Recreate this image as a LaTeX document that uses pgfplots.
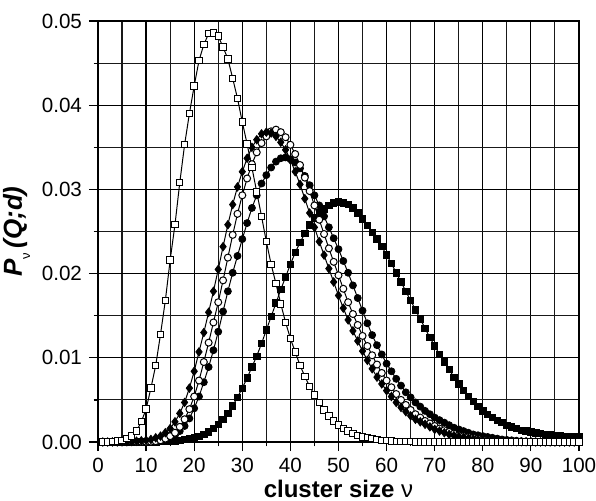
\documentclass[border=0pt]{standalone}
\usepackage{fontspec}
\setmainfont{Liberation Sans}
\usepackage{pgfplots}
\usepackage{pgfplotstable}
\pgfplotsset{compat=1.18}

\pgfplotstableread{
x y
1 0.00001
2 0.00002
3 0.00004
4 0.0001
5 0.0002
6 0.0004
7 0.0007
8 0.0013
9 0.0024
10 0.0039
11 0.0064
12 0.0091
13 0.0128
14 0.0168
15 0.0216
16 0.0258
17 0.0308
18 0.0353
19 0.0390
20 0.0423
21 0.0453
22 0.0472
23 0.0485
24 0.0486
25 0.0482
26 0.0469
27 0.0455
28 0.0432
29 0.0408
30 0.0380
31 0.0354
32 0.0326
33 0.0297
34 0.0268
35 0.0238
36 0.0211
37 0.0188
38 0.0164
39 0.0142
40 0.0123
41 0.0107
42 0.0091
43 0.0078
44 0.0066
45 0.0056
46 0.0047
47 0.0038
48 0.0031
49 0.0025
50 0.0020
51 0.0016
52 0.0013
53 0.0010
54 0.0008
55 0.0006
56 0.0005
57 0.0004
58 0.0003
59 0.0002
60 0.00015
61 0.0001
62 0.00008
63 0.00006
64 0.00004
65 0.00003
66 0.00002
67 0.00002
68 0.00001
69 0.00001
70 0.00001
71 0.00001
72 0.00001
73 0.00001
74 0.00001
75 0.00001
76 0
77 0
78 0
79 0
80 0
81 0
82 0
83 0
84 0
85 0
86 0
87 0
88 0
89 0
90 0
91 0
92 0
93 0
94 0
95 0
96 0
97 0
98 0
99 0
100 0
}\tabA

\pgfplotstableread{
x y
1 0
2 0
3 0.00001
4 0.00001
5 0.00002
6 0.00003
7 0.00005
8 0.0001
9 0.00015
10 0.0002
11 0.0003
12 0.0005
13 0.0007
14 0.0011
15 0.0016
16 0.0024
17 0.0034
18 0.0047
19 0.0064
20 0.0084
21 0.0107
22 0.0130
23 0.0154
24 0.0179
25 0.0205
26 0.0232
27 0.0258
28 0.0282
29 0.0303
30 0.0321
31 0.0337
32 0.0350
33 0.0359
34 0.0366
35 0.0368
36 0.0367
37 0.0363
38 0.0356
39 0.0347
40 0.0335
41 0.0321
42 0.0306
43 0.0289
44 0.0272
45 0.0255
46 0.0238
47 0.0222
48 0.0206
49 0.0190
50 0.0174
51 0.0159
52 0.0145
53 0.0132
54 0.0120
55 0.0108
56 0.0097
57 0.0087
58 0.0077
59 0.0069
60 0.0061
61 0.0054
62 0.0047
63 0.0041
64 0.0036
65 0.0031
66 0.0027
67 0.0024
68 0.0021
69 0.0018
70 0.0015
71 0.0013
72 0.0011
73 0.0009
74 0.00075
75 0.00065
76 0.00055
77 0.00045
78 0.00035
79 0.0003
80 0.00022
81 0.00018
82 0.00014
83 0.00011
84 0.00008
85 0.00006
86 0.00005
87 0.00004
88 0.00003
89 0.00002
90 0.00002
91 0.00001
92 0.00001
93 0.00001
94 0.00001
95 0
96 0
97 0
98 0
99 0
100 0
}\tabB

\pgfplotstableread{
x y
1 0
2 0
3 0
4 0
5 0
6 0.00001
7 0.00001
8 0.00001
9 0.00001
10 0.00002
11 0.00004
12 0.0001
13 0.0002
14 0.0004
15 0.0007
16 0.0011
17 0.0018
18 0.0027
19 0.0039
20 0.0054
21 0.0073
22 0.0095
23 0.0118
24 0.0142
25 0.0166
26 0.0192
27 0.0219
28 0.0246
29 0.0271
30 0.0293
31 0.0313
32 0.0330
33 0.0344
34 0.0355
35 0.0363
36 0.0369
37 0.0371
38 0.0368
39 0.0362
40 0.0353
41 0.0342
42 0.0329
43 0.0314
44 0.0298
45 0.0281
46 0.0264
47 0.0247
48 0.0230
49 0.0214
50 0.0198
51 0.0182
52 0.0166
53 0.0152
54 0.0139
55 0.0126
56 0.0114
57 0.0103
58 0.0092
59 0.0082
60 0.0073
61 0.0065
62 0.0057
63 0.0050
64 0.0044
65 0.0038
66 0.0033
67 0.0029
68 0.0025
69 0.0022
70 0.0019
71 0.0016
72 0.0014
73 0.0012
74 0.0010
75 0.0008
76 0.0007
77 0.0006
78 0.0005
79 0.0004
80 0.0003
81 0.00025
82 0.0002
83 0.00015
84 0.0001
85 0.00008
86 0.00006
87 0.00004
88 0.00003
89 0.00002
90 0.00002
91 0.00001
92 0.00001
93 0.00001
94 0.00001
95 0
96 0
97 0
98 0
99 0
100 0
}\tabC

\pgfplotstableread{
x y
1 0
2 0
3 0
4 0
5 0
6 0
7 0.00001
8 0.00001
9 0.00001
10 0.00002
11 0.00003
12 0.00006
13 0.00015
14 0.0003
15 0.0005
16 0.0008
17 0.0013
18 0.0019
19 0.0028
20 0.0040
21 0.0054
22 0.0071
23 0.0089
24 0.0109
25 0.0131
26 0.0155
27 0.0179
28 0.0201
29 0.0221
30 0.0241
31 0.0260
32 0.0278
33 0.0293
34 0.0307
35 0.0317
36 0.0326
37 0.0333
38 0.0337
39 0.0338
40 0.0336
41 0.0332
42 0.0325
43 0.0316
44 0.0305
45 0.0293
46 0.0281
47 0.0268
48 0.0255
49 0.0242
50 0.0229
51 0.0215
52 0.0201
53 0.0186
54 0.0171
55 0.0156
56 0.0141
57 0.0127
58 0.0115
59 0.0104
60 0.0093
61 0.0084
62 0.0075
63 0.0067
64 0.0059
65 0.0053
66 0.0047
67 0.0042
68 0.0037
69 0.0033
70 0.0029
71 0.0026
72 0.0023
73 0.0020
74 0.0017
75 0.0015
76 0.0013
77 0.0011
78 0.0009
79 0.0008
80 0.0007
81 0.0006
82 0.0005
83 0.0004
84 0.0003
85 0.00025
86 0.0002
87 0.00015
88 0.0001
89 0.00008
90 0.00006
91 0.00005
92 0.00004
93 0.00003
94 0.00002
95 0.00002
96 0.00001
97 0.00001
98 0.00001
99 0.00001
100 0.00001
}\tabD

\pgfplotstableread{
x y
1 0
2 0
3 0
4 0
5 0
6 0
7 0.00001
8 0.00001
9 0.00001
10 0.00001
11 0.00002
12 0.00003
13 0.00005
14 0.00007
15 0.0001
16 0.00015
17 0.0002
18 0.0003
19 0.0004
20 0.0005
21 0.0007
22 0.0009
23 0.0012
24 0.0016
25 0.0021
26 0.0027
27 0.0034
28 0.0043
29 0.0053
30 0.0064
31 0.0076
32 0.0089
33 0.0102
34 0.0117
35 0.0133
36 0.0149
37 0.0165
38 0.0181
39 0.0196
40 0.0211
41 0.0225
42 0.0237
43 0.0248
44 0.0258
45 0.0266
46 0.0272
47 0.0277
48 0.0281
49 0.0284
50 0.0285
51 0.0284
52 0.0282
53 0.0278
54 0.0272
55 0.0265
56 0.0257
57 0.0249
58 0.0241
59 0.0232
60 0.0222
61 0.0212
62 0.0201
63 0.0190
64 0.0179
65 0.0168
66 0.0157
67 0.0146
68 0.0135
69 0.0124
70 0.0114
71 0.0104
72 0.0095
73 0.0086
74 0.0077
75 0.0069
76 0.0061
77 0.0054
78 0.0048
79 0.0042
80 0.0037
81 0.0033
82 0.0029
83 0.0026
84 0.0023
85 0.0020
86 0.0018
87 0.0016
88 0.0014
89 0.0013
90 0.0012
91 0.0011
92 0.0010
93 0.0009
94 0.0009
95 0.0008
96 0.0008
97 0.0007
98 0.0007
99 0.0006
100 0.0006
}\tabE

\begin{document}
\begin{tikzpicture}
\begin{axis}[
  scale only axis,
  width=240.5pt, height=210.5pt,
  at={(0,0)}, anchor=south west,
  xmin=0, xmax=100, ymin=0, ymax=0.05,
  xtick={0,10,...,100},
  ytick={0,0.01,0.02,0.03,0.04,0.05},
  minor x tick num=1,
  minor y tick num=1,
  grid=both,
  major grid style={black, line width=0.6pt},
  minor grid style={black!90, line width=0.55pt},
  axis line style={black, line width=0.8pt},
  tick align=outside,
  xtick pos=bottom, ytick pos=left,
  major tick length=4.5pt,
  minor tick length=2.2pt,
  tick style={black, line width=0.6pt},
  scaled y ticks=false,
  yticklabel style={/pgf/number format/.cd, fixed, fixed zerofill, precision=2},
  /pgf/number format/assume math mode=true,
  ticklabel style={font=\fontsize{10.3}{12}\selectfont},
  xlabel={\textbf{cluster size} ν},
  xlabel style={font=\fontsize{12}{14}\selectfont, yshift=3pt},
  ylabel={\textbf{\textit{P}}\raisebox{-0.6ex}{\fontsize{6.5}{7}\selectfont ν}\,\textbf{\textit{(Q;d)}}},
  ylabel style={font=\fontsize{13}{15}\selectfont, yshift=-1pt},
  every axis plot/.append style={black, line width=0.5pt},
]
\addplot[mark=square*, mark size=1.6pt, mark options={fill=black, draw=black, line width=0.4pt}] table {\tabE};
\addplot[mark=*, mark size=1.75pt, mark options={fill=black, draw=black, line width=0.4pt}] table {\tabD};
\addplot[mark=*, mark size=1.75pt, mark options={fill=white, draw=black, line width=0.5pt}] table {\tabC};
\addplot[mark=diamond*, mark size=2.1pt, mark options={fill=black, draw=black, line width=0.4pt}] table {\tabB};
\addplot[mark=square*, mark size=1.6pt, mark options={fill=white, draw=black, line width=0.5pt}] table {\tabA};
\end{axis}
\pgfresetboundingbox
\path (-49pt,-29pt) rectangle (249pt,221pt);
\end{tikzpicture}
\end{document}
